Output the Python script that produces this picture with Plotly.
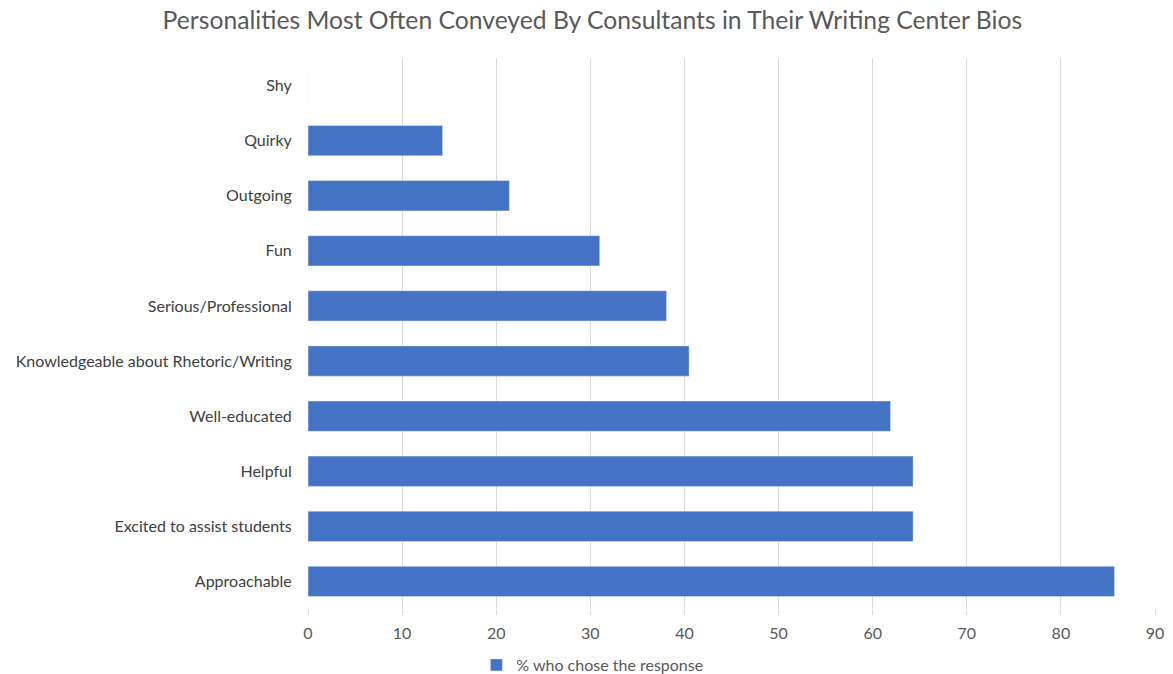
import plotly.graph_objects as go

categories = ["Approachable", "Excited to assist students", "Helpful", "Well-educated",
              "Knowledgeable about Rhetoric/Writing", "Serious/Professional", "Fun",
              "Outgoing", "Quirky", "Shy"]
values = [85.7, 64.3, 64.3, 61.9, 40.5, 38.1, 31.0, 21.4, 14.3, 0]
series_name = "% who chose the response"
x_ticks = [0, 10, 20, 30, 40, 50, 60, 70, 80, 90]

fig = go.Figure()
fig.add_trace(go.Bar(
    y=categories, x=values, orientation="h", name=series_name,
    marker=dict(color="#4472C4"), showlegend=True,
))

fig.update_layout(
    width=1173, height=682,
    paper_bgcolor="white", plot_bgcolor="white",
    font=dict(family="Lato, 'Open Sans', sans-serif", color="#595959", size=16),
    title=dict(text="Personalities Most Often Conveyed By Consultants in Their Writing Center Bios",
               x=0.505, xanchor="center", y=0.9707, yanchor="middle",
               font=dict(size=24.7, color="#595959")),
    margin=dict(l=308, r=18, t=58, b=73),
    bargap=0.45,
    legend=dict(orientation="h", xref="container", yref="container",
                x=0.505, xanchor="center", y=0, yanchor="bottom",
                font=dict(size=16, color="#595959")),
)
fig.update_xaxes(range=[0, 90], tickvals=x_ticks, showgrid=True, gridcolor="#d9d9d9",
                 gridwidth=1, zeroline=False, showline=False, automargin=False,
                 ticks="outside", ticklen=5, tickcolor="#d9d9d9", ticklabelstandoff=5,
                 tickfont=dict(size=16, color="#595959"))
fig.update_yaxes(categoryorder="array", categoryarray=categories, showgrid=False,
                 automargin=False,
                 ticks="outside", ticklen=12, tickcolor="rgba(0,0,0,0)",
                 tickfont=dict(size=16, color="#404040"), showline=False)

fig.write_html("out.html", config={"displayModeBar": False},
               post_script="document.body.style.margin='0';document.body.style.overflow='hidden';")
